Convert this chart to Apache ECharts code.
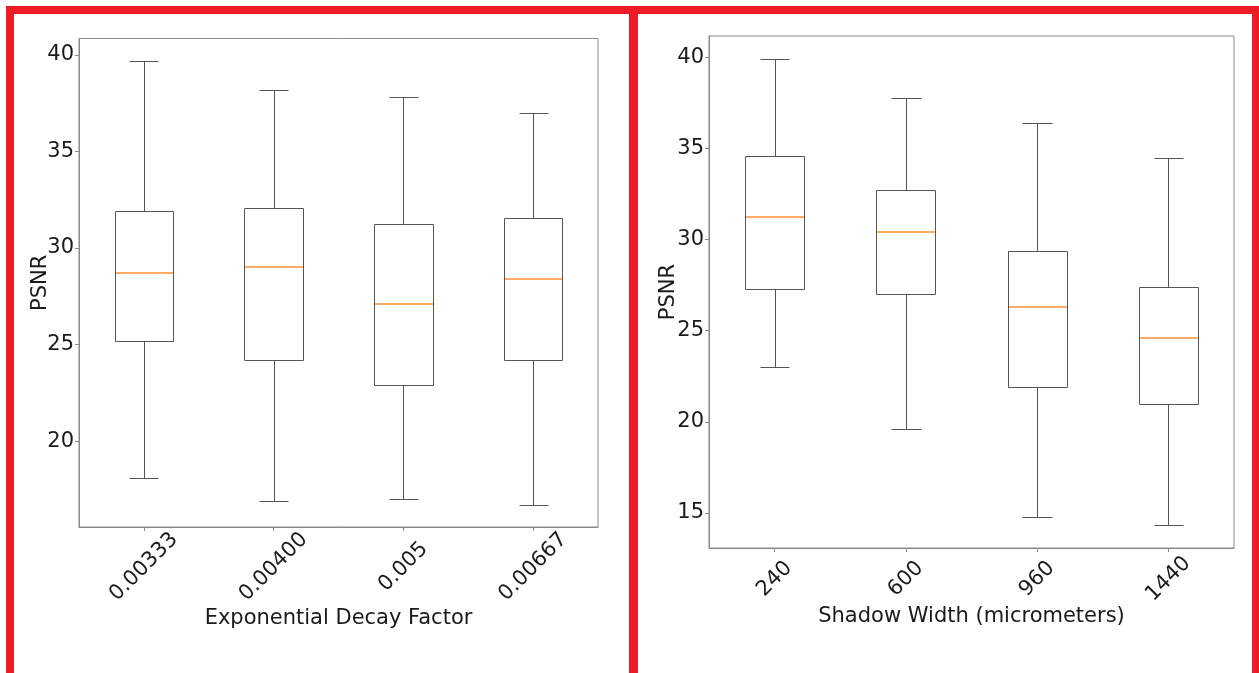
<!DOCTYPE html>
<html>
<head>
<meta charset="utf-8">
<script src="https://cdn.jsdelivr.net/npm/echarts@6/dist/echarts.min.js"></script>
<style>
html,body{margin:0;padding:0;background:#fff;}
#chart{width:1259px;height:673px;}
</style>
</head>
<body>
<div id="chart"></div>
<script>
// ---- Left panel data (Exponential Decay Factor) ----
const leftCategories = ['0.00333', '0.00400', '0.005', '0.00667'];
const leftLow  = [18.1, 16.9, 17.0, 16.7];
const leftQ1   = [25.2, 24.2, 22.9, 24.2];
const leftMed  = [28.7, 29.0, 27.1, 28.4];
const leftQ3   = [31.9, 32.05, 31.25, 31.55];
const leftHigh = [39.7, 38.2, 37.8, 37.0];
const leftYTicks = [20, 25, 30, 35, 40];

// ---- Right panel data (Shadow Width) ----
const rightCategories = ['240', '600', '960', '1440'];
const rightLow  = [23.0, 19.6, 14.75, 14.35];
const rightQ1   = [27.3, 27.0, 21.9, 21.0];
const rightMed  = [31.25, 30.4, 26.3, 24.6];
const rightQ3   = [34.6, 32.75, 29.35, 27.4];
const rightHigh = [39.9, 37.8, 36.4, 34.5];
const rightYTicks = [15, 20, 25, 30, 35, 40];

function rows(lo, q1, md, q3, hi) {
  return lo.map((v, i) => [i, v, q1[i], md[i], q3[i], hi[i]]);
}

const FONT = 'DejaVu Sans';
const FS = 21;
const TXT = '#1a1a1a';
const FRAME = '#8a8a8a';
const BOX = '#555555';
const MED = '#ffab66';

function px(v) { return Math.round(v) + 0.5; }

function renderBox(params, api) {
  const x = api.value(0);
  const lo = api.coord([x, api.value(1)]);
  const q1 = api.coord([x, api.value(2)]);
  const md = api.coord([x, api.value(3)]);
  const q3 = api.coord([x, api.value(4)]);
  const hi = api.coord([x, api.value(5)]);
  const bw = api.size([1, 0])[0] * 0.45;
  const cx = px(lo[0]);
  const l = px(lo[0] - bw / 2), r = px(lo[0] + bw / 2);
  const cl = px(lo[0] - bw / 4), cr = px(lo[0] + bw / 4);
  const line = () => ({ stroke: BOX, lineWidth: 1 });
  const my = Math.round(md[1]);
  return {
    type: 'group',
    children: [
      { type: 'rect', shape: { x: l, y: px(q3[1]), width: r - l, height: px(q1[1]) - px(q3[1]) }, style: { stroke: BOX, lineWidth: 1, fill: 'rgba(0,0,0,0)' } },
      { type: 'line', shape: { x1: cx, y1: px(q3[1]), x2: cx, y2: px(hi[1]) }, style: line() },
      { type: 'line', shape: { x1: cx, y1: px(q1[1]), x2: cx, y2: px(lo[1]) }, style: line() },
      { type: 'line', shape: { x1: cl, y1: px(hi[1]), x2: cr, y2: px(hi[1]) }, style: line() },
      { type: 'line', shape: { x1: cl, y1: px(lo[1]), x2: cr, y2: px(lo[1]) }, style: line() },
      { type: 'line', z2: 10, shape: { x1: l + 0.5, y1: my, x2: r - 0.5, y2: my }, style: { stroke: MED, lineWidth: 2 } }
    ]
  };
}

function xAxisCfg(gridIndex, cats, name, nameGap, margin) {
  return {
    type: 'category', gridIndex, data: cats,
    name, nameLocation: 'middle', nameGap, nameMoveOverlap: false,
    nameTextStyle: { fontFamily: FONT, fontSize: FS, color: TXT, verticalAlign: 'top' },
    axisLine: { show: true, lineStyle: { color: FRAME, width: 1 } },
    axisTick: { show: true, alignWithLabel: true, length: 4, lineStyle: { color: FRAME } },
    axisLabel: { interval: 0, rotate: 45, margin, align: 'center', verticalAlign: 'middle',
      fontFamily: FONT, fontSize: FS, color: TXT },
    splitLine: { show: false }
  };
}

function yAxisCfg(gridIndex, min, max, ticks, nameGap) {
  return {
    type: 'value', gridIndex, min, max,
    name: 'PSNR', nameLocation: 'middle', nameGap, nameRotate: 90, nameMoveOverlap: false,
    nameTextStyle: { fontFamily: FONT, fontSize: FS, color: TXT },
    axisLine: { show: true, lineStyle: { color: FRAME, width: 1 } },
    axisTick: { show: true, length: 4, lineStyle: { color: FRAME }, customValues: ticks },
    axisLabel: { fontFamily: FONT, fontSize: FS, color: TXT, margin: 5, customValues: ticks },
    splitLine: { show: false }
  };
}

const RED = '#ed1c24';
const chart = echarts.init(document.getElementById('chart'), null, { renderer: 'canvas' });
chart.setOption({
  backgroundColor: '#ffffff',
  animation: false,
  grid: [
    { left: 79, top: 38.5, width: 519, height: 488.5, show: true, borderColor: FRAME, borderWidth: 1, backgroundColor: 'transparent' },
    { left: 709, top: 36, width: 525, height: 512, show: true, borderColor: FRAME, borderWidth: 1, backgroundColor: 'transparent' }
  ],
  xAxis: [
    xAxisCfg(0, leftCategories, 'Exponential Decay Factor', 81, 40),
    xAxisCfg(1, rightCategories, 'Shadow Width (micrometers)', 58, 31)
  ],
  yAxis: [
    yAxisCfg(0, 15.55, 40.85, leftYTicks, 28),
    yAxisCfg(1, 13.07, 41.18, rightYTicks, 30)
  ],
  series: [
    { type: 'custom', xAxisIndex: 0, yAxisIndex: 0, renderItem: renderBox,
      encode: { x: 0, y: [1, 2, 3, 4, 5] }, data: rows(leftLow, leftQ1, leftMed, leftQ3, leftHigh) },
    { type: 'custom', xAxisIndex: 1, yAxisIndex: 1, renderItem: renderBox,
      encode: { x: 0, y: [1, 2, 3, 4, 5] }, data: rows(rightLow, rightQ1, rightMed, rightQ3, rightHigh) }
  ],
  graphic: [
    { type: 'rect', shape: { x: 6, y: 6, width: 1253, height: 8 }, style: { fill: RED }, silent: true },
    { type: 'rect', shape: { x: 6, y: 6, width: 8, height: 667 }, style: { fill: RED }, silent: true },
    { type: 'rect', shape: { x: 629, y: 6, width: 9, height: 667 }, style: { fill: RED }, silent: true },
    { type: 'rect', shape: { x: 1252, y: 6, width: 7, height: 667 }, style: { fill: RED }, silent: true }
  ]
});
</script>
</body>
</html>
